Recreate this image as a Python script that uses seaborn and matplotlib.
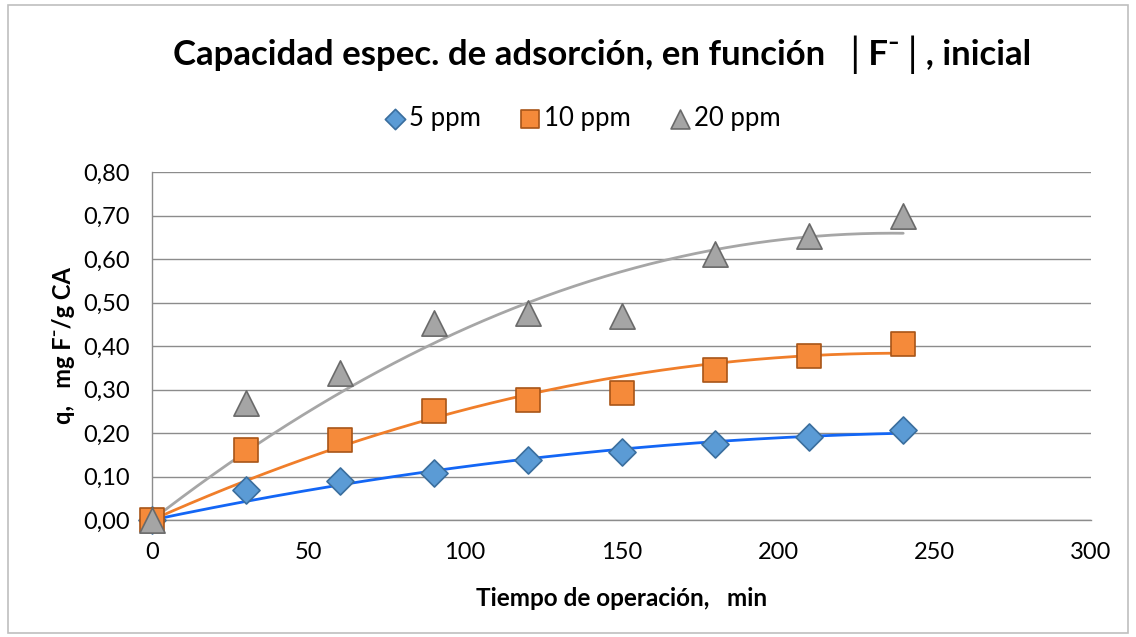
import numpy as np
import pandas as pd
import matplotlib
matplotlib.use("Agg")
import matplotlib.pyplot as plt
import seaborn as sns
from matplotlib.patches import Rectangle
from matplotlib.ticker import FuncFormatter

# ---- data ----
tiempo = [0, 30, 60, 90, 120, 150, 180, 210, 240]
q_5ppm = [0.0, 0.069, 0.090, 0.107, 0.138, 0.157, 0.175, 0.190, 0.207]
q_10ppm = [0.0, 0.161, 0.184, 0.251, 0.277, 0.292, 0.345, 0.378, 0.405]
q_20ppm = [0.0, 0.270, 0.337, 0.452, 0.476, 0.469, 0.611, 0.652, 0.699]
series_names = ["5 ppm", "10 ppm", "20 ppm"]
x_ticks = [0, 50, 100, 150, 200, 250, 300]
y_ticks = [0.0, 0.1, 0.2, 0.3, 0.4, 0.5, 0.6, 0.7, 0.8]

sns.set_theme(style="white")
plt.rcParams["font.family"] = ["Lato", "DejaVu Sans"]
plt.rcParams["text.color"] = "black"

df = pd.DataFrame({
    "t": tiempo * 3,
    "q": q_5ppm + q_10ppm + q_20ppm,
    "serie": [s for s in series_names for _ in tiempo],
})

# polynomial (order 2, through origin) trend lines like Excel
t_arr = np.array(tiempo, dtype=float)
trend_rows = []
t_fine = np.linspace(0, 240, 200)
for name, q in zip(series_names, [q_5ppm, q_10ppm, q_20ppm]):
    A = np.column_stack([t_arr, t_arr ** 2])
    coef, *_ = np.linalg.lstsq(A, np.array(q), rcond=None)
    yfit = coef[0] * t_fine + coef[1] * t_fine ** 2
    for a, b in zip(t_fine, yfit):
        trend_rows.append((a, b, name))
trend = pd.DataFrame(trend_rows, columns=["t", "q", "serie"])

fill = {"5 ppm": "#5B9BD5", "10 ppm": "#F58A3A", "20 ppm": "#A5A5A5"}
edge = {"5 ppm": "#3A6E9E", "10 ppm": "#A85518", "20 ppm": "#6A6A6A"}
linec = {"5 ppm": "#1366F5", "10 ppm": "#F07E2A", "20 ppm": "#A6A6A6"}
markers = {"5 ppm": "D", "10 ppm": "s", "20 ppm": "^"}
sizes = {"5 ppm": 190, "10 ppm": 300, "20 ppm": 330}

fig = plt.figure(figsize=(11.36, 6.37), dpi=100)
ax = fig.add_axes([152 / 1136, 1 - 520 / 637, (1091 - 152) / 1136, (520 - 172) / 637])

ax.set_axisbelow(True)
ax.yaxis.grid(True, color="#8C8C8C", linewidth=1.0)
ax.xaxis.grid(False)

sns.lineplot(data=trend, x="t", y="q", hue="serie", palette=linec,
             linewidth=2.0, legend=False, ax=ax, zorder=2)

for name in series_names:
    sub = df[df["serie"] == name]
    sns.scatterplot(data=sub, x="t", y="q", marker=markers[name], s=sizes[name],
                    color=fill[name], edgecolor=edge[name], linewidth=1.2,
                    ax=ax, zorder=3, label=name, clip_on=False)

ax.set_xlim(0, 300)
ax.set_ylim(0, 0.8)
ax.set_xticks(x_ticks)
ax.set_yticks(y_ticks)
ax.yaxis.set_major_formatter(FuncFormatter(lambda v, p: f"{v:.2f}".replace(".", ",")))
ax.tick_params(axis="both", labelsize=17, labelcolor="black", length=8,
               direction="out", width=1, color="#8C8C8C")
ax.tick_params(axis="x", pad=8)
ax.tick_params(axis="y", pad=8)

for side in ["top", "right"]:
    ax.spines[side].set_visible(False)
for side in ["left", "bottom"]:
    ax.spines[side].set_color("#8C8C8C")
    ax.spines[side].set_linewidth(1.0)

ax.set_xlabel("Tiempo de operación,   min", fontsize=17.5, fontweight="bold",
              labelpad=17, color="black")
ax.set_ylabel("q,   mg F⁻/g CA", fontsize=17, fontweight="bold",
              labelpad=6, color="black")

fig.text(602 / 1136, 1 - 55 / 637, "Capacidad espec. de adsorción, en función  │F⁻│, inicial",
         ha="center", va="center", fontsize=25, fontweight="bold", color="black")

leg = ax.legend(loc="center", bbox_to_anchor=((575 - 152) / 939, 1 + 54 / 348),
                ncol=3, frameon=False, fontsize=18.5, handletextpad=-0.45,
                columnspacing=0.9, markerscale=0.75, handlelength=2.0)

fig.patches.append(Rectangle((8 / 1136, 4 / 637), 1120 / 1136, 628 / 637,
                             transform=fig.transFigure, fill=False,
                             edgecolor="#BFBFBF", linewidth=1.2))

fig.savefig("out.png", dpi=100, facecolor="white")
